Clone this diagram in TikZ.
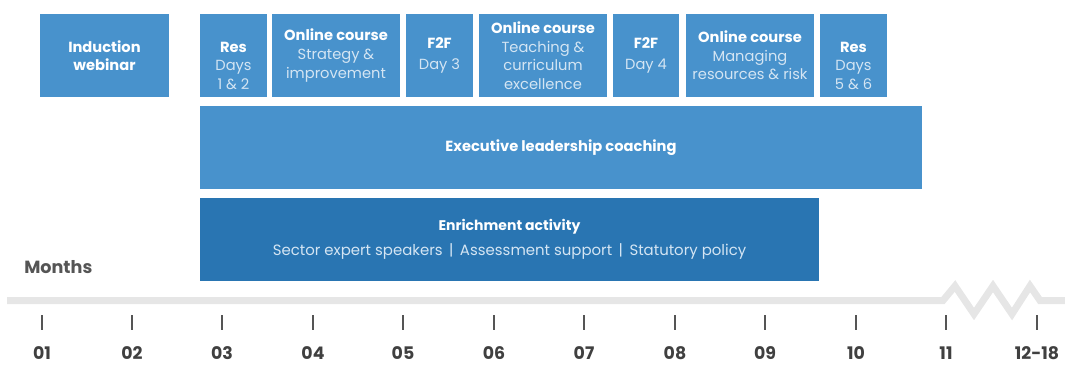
\documentclass[tikz,border=0pt]{standalone}
\usepackage{fontspec}
\setmainfont{Poppins}
\definecolor{boxblue}{RGB}{72,146,204}
\definecolor{deepblue}{RGB}{41,117,178}
\definecolor{paleblue}{RGB}{212,229,243}
\definecolor{railgray}{RGB}{230,230,230}
\definecolor{tickgray}{RGB}{85,85,85}
\definecolor{labelgray}{RGB}{64,64,64}
\newcommand\subtx[1]{{\color{paleblue}#1}}
\begin{document}
\begin{tikzpicture}[x=0.75pt,y=-0.75pt,
  block/.style={fill=boxblue, text=white, inner sep=0pt, align=center,
    minimum width=#1*0.75pt, minimum height=83*0.75pt,
    font=\fontsize{11}{13.9}\selectfont},
  deepblock/.style={block=#1, fill=deepblue},
  blocktext/.style={text=white, inner sep=0pt, align=center,
    font=\fontsize{11}{13.9}\selectfont},
  month/.style={text=labelgray, font=\fontsize{13}{15}\selectfont\bfseries, inner sep=0pt},
  tick/.style={draw=tickgray, line width=1.9pt},
  rail/.style={draw=railgray, line width=5.25pt, line join=miter}]
\useasboundingbox (0,0) rectangle (1065,365);

% programme components along the top row
\node[block=129] (ind)  at (104.5,55.5) {\textbf{Induction}\\\textbf{webinar}};
\node[block=67]  (res1) at (233.5,55.5) {};
\node[blocktext] (res1t) at (233.5,65.5) {\textbf{Res}\\\subtx{Days}\\\subtx{1 \& 2}};
\node[block=128] (on1)  at (336,55.5)   {\textbf{Online course}\\\subtx{Strategy \&}\\\subtx{improvement}};
\node[block=67]  (f2f1) at (439.5,55.5) {\textbf{F2F}\\[1.5pt]\subtx{Day 3}};
\node[block=128] (on2)  at (543,55.5)   {\textbf{Online course}\\\subtx{Teaching \&}\\\subtx{curriculum}\\\subtx{excellence}};
\node[block=66]  (f2f2) at (646,55.5)   {\textbf{F2F}\\[1.5pt]\subtx{Day 4}};
\node[block=128] (on3)  at (750,55.5)   {\textbf{Online course}\\\subtx{Managing}\\\subtx{resources \& risk}};
\node[block=67]  (res2) at (853.5,55.5) {};
\node[blocktext] (res2t) at (853.5,65.5) {\textbf{Res}\\\subtx{Days}\\\subtx{5 \& 6}};

% long-running strands
\node[block=722] (coach) at (561,147.5) {\textbf{Executive leadership coaching}};
\node[deepblock=619, font=\fontsize{11.2}{19}\selectfont] (enrich) at (509.5,239)
  {{\fontsize{10.5}{19}\selectfont\textbf{Enrichment activity}}\\\subtx{Sector expert speakers \,|\, Assessment support \,|\, Statutory policy}};

% timeline
\node[text=tickgray, font=\fontsize{13.2}{15}\selectfont\bfseries, anchor=west, inner sep=0pt] (months) at (24,267) {Months};
\draw[rail] (7,300.5) -- (943,300.5) -- (955,286) -- (974,314) -- (993,286)
  -- (1012,314) -- (1030,286) -- (1040,300.5) -- (1065,300.5);

\foreach \x/\lab [count=\i] in {42/01,132/02,222/03,313/04,403/05,494/06,584/07,675/08,765/09,856/10,946/11,1037/12-18}{
  \draw[tick] (\x,315) -- (\x,330);
  \node[month] (m\i) at (\x,353) {\lab};
}
\end{tikzpicture}
\end{document}
